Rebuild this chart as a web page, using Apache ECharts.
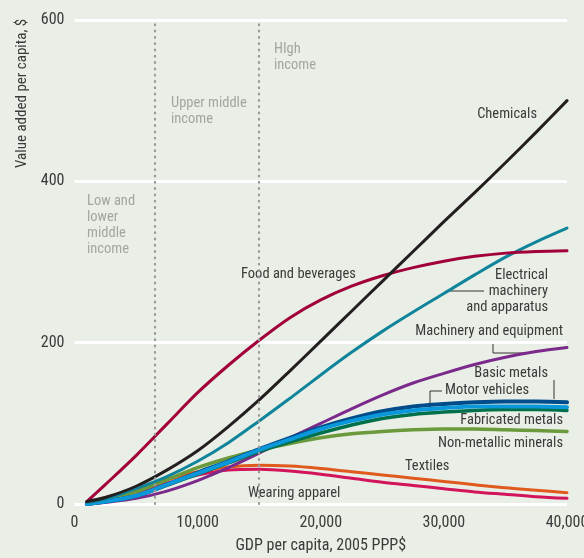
<!DOCTYPE html>
<html><head><meta charset="utf-8">
<script src="https://cdn.jsdelivr.net/npm/echarts@6/dist/echarts.min.js"></script>
<style>html,body{margin:0;padding:0;background:#e9eee6}#c{width:584px;height:558px}</style>
</head><body><div id="c"></div>
<script>
// GDP per capita (2005 PPP$)
const gdp = [1000, 2500, 5000, 7500, 10000, 12500, 15000, 17500, 20000, 22500, 25000, 27500, 30000, 32500, 35000, 37500, 40000];
const chemicals   = [3, 8, 22, 42, 66, 96, 129, 165, 202, 239, 276, 313, 350, 386, 423, 461, 500];
const food        = [3, 24, 60, 99, 138, 172, 203, 231, 253, 270, 283, 293, 301, 307, 311, 313, 314];
const electrical  = [2, 6, 19, 34, 53, 76, 103, 131, 160, 188, 214, 238, 261, 284, 306, 325, 342];
const machinery   = [0, 2, 7, 16, 29, 45, 63, 82, 100, 118, 135, 150, 162, 173, 182, 189, 194];
const basicMetals = [0, 3, 10, 24, 39, 53, 68, 82, 95, 106, 115, 121, 124, 126, 127, 127, 126];
const motor       = [0, 3, 10, 24, 38, 52, 67, 80, 93, 103, 111, 116, 119, 121, 121, 121, 120];
const fabricated  = [0, 3, 10, 23, 37, 51, 65, 77, 88, 98, 106, 111, 114, 116, 117, 117, 116];
const nonMetallic = [0, 5, 15, 30, 45, 57, 67, 75, 82, 87, 90, 92, 93, 93, 92, 91, 90];
const textiles    = [2, 8, 18, 30, 40, 46, 48, 47, 44, 40, 36, 32, 28, 24, 20, 17, 14];
const apparel     = [2, 7, 15, 26, 36, 42, 43, 41, 37, 32, 27, 23, 19, 15, 12, 9, 7];
const incomeThresholds = [6500, 15000];

const FONT = "'Liberation Sans Narrow', 'Arial Narrow', 'Roboto Condensed', 'Liberation Sans', sans-serif";
const TXT = '#3a3a3a';
const GRAY = '#a3a5a3';

function pairs(v){ return gdp.map((x,i)=>[x, v[i]]); }
function line(name, v, color, w){
  return {name, type:'line', data:pairs(v), smooth:0.3, showSymbol:false, symbol:'none',
    lineStyle:{color, width:w, cap:'round'}, emphasis:{disabled:true}};
}

const chart = echarts.init(document.getElementById('c'), null, {renderer:'canvas'});
const series = [
  line('Wearing apparel', apparel, '#d2145a', 3),
  line('Textiles', textiles, '#e05a1e', 3),
  line('Non-metallic minerals', nonMetallic, '#6a9a3c', 3.5),
  line('Machinery and equipment', machinery, '#7b2a8c', 3),
  line('Fabricated metals', fabricated, '#00704a', 3.5),
  line('Basic metals', basicMetals, '#004c8a', 4),
  line('Motor vehicles', motor, '#0a98da', 4),
  line('Electrical machinery and apparatus', electrical, '#10849a', 3),
  line('Food and beverages', food, '#a2003a', 3),
  line('Chemicals', chemicals, '#231f20', 3)
];
series.push({
  type:'line', data:[], silent:true,
  markLine:{silent:true, symbol:'none', label:{show:false},
    lineStyle:{color:'#9a9a9a', width:2.2, type:[0.8,5.5], cap:'round'},
    data: incomeThresholds.map(x=>({xAxis:x}))}
});

function t(text, x, y, align, color, extra){
  return Object.assign({type:'text', x, y, silent:true,
    style:{text, fill:color||TXT, font:'14.5px '+FONT, textAlign:align||'left', textVerticalAlign:'middle', lineHeight:16}}, extra||{});
}
function pl(points){
  return {type:'polyline', silent:true, shape:{points}, style:{stroke:'#333', lineWidth:1, fill:null}};
}

chart.setOption({
  animation:false,
  backgroundColor:'#e9eee6',
  grid:{left:74.5, right:17, top:20, bottom:54, containLabel:false, outerBoundsMode:'none'},
  xAxis:{type:'value', min:0, max:40000, interval:10000,
    axisLine:{show:false}, axisTick:{show:false}, splitLine:{show:false},
    axisLabel:{color:TXT, fontSize:16, fontFamily:FONT, margin:11, hideOverlap:false,
      formatter:v=>v.toLocaleString('en-US')},
    name:'GDP per capita, 2005 PPP$', nameLocation:'middle', nameGap:34,
    nameTextStyle:{color:TXT, fontSize:16, fontFamily:FONT}},
  yAxis:{type:'value', min:0, max:600, interval:200,
    axisLine:{show:false}, axisTick:{show:false},
    splitLine:{show:true, lineStyle:{color:'#ffffff', width:3}},
    axisLabel:{color:TXT, fontSize:16, fontFamily:FONT, margin:10}},
  series,
  graphic:[
    t('Value added per capita, $', 22, 168, 'left', TXT, {rotation:Math.PI/2, style:{text:'Value added per capita, $', fill:TXT, font:'15px '+FONT, textAlign:'left', textVerticalAlign:'middle'}}),
    t('Low and\nlower\nmiddle\nincome', 87, 225, 'left', GRAY),
    t('Upper middle\nincome', 171, 111.5, 'left', GRAY),
    t('HIgh\nincome', 274, 57.5, 'left', GRAY),
    t('Chemicals', 537, 114, 'right'),
    t('Food and beverages', 241, 274, 'left'),
    t('Electrical\nmachinery\nand apparatus', 548, 291, 'right'),
    pl([[450,291],[484,291]]),
    t('Machinery and equipment', 563, 331, 'right'),
    pl([[493,342],[493,353],[527,353]]),
    t('Basic metals', 548, 373, 'right'),
    pl([[554,380],[554,399]]),
    t('Motor vehicles', 445, 390, 'left'),
    pl([[442,391],[430,391],[430,408]]),
    t('Fabricated metals', 563, 420, 'right'),
    t('Non-metallic minerals', 563, 443, 'right'),
    t('Textiles', 405, 466, 'left'),
    t('Wearing apparel', 248, 493, 'left')
  ]
});
</script></body></html>
